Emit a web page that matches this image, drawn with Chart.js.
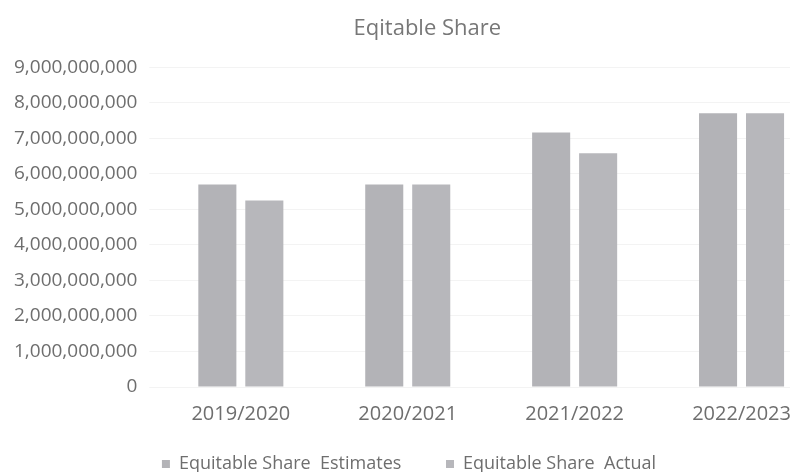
<!DOCTYPE html>
<html lang="en">
<head>
    <meta charset="UTF-8">
    <title>Eqitable Share</title>
    <script src="https://cdn.jsdelivr.net/npm/chart.js@4/dist/chart.umd.min.js"></script>
    <style>
        html, body { margin: 0; padding: 0; overflow: hidden; background: #fff; }
        #wrap { width: 850px; height: 472px; }
    </style>
</head>
<body>
<div id="wrap">
    <canvas id="main_chart" width="850" height="472"></canvas>
</div>
<script>
    const years = ['2019/2020', '2020/2021', '2021/2022', '2022/2023'];
    const estimates = [5700000000, 5700000000, 7170000000, 7710000000];
    const actual = [5250000000, 5700000000, 6580000000, 7710000000];
    const TEXT_COLOR = '#6e6e6e';
    const FONT = '"Open Sans", sans-serif';
    // extra blank space after each legend entry (the original has wide gaps)
    const LEGEND_TAILS = ['\u2003 ', '\u2002'];

    function drawChart() {
        const ctx = document.getElementById('main_chart').getContext('2d');
        return new Chart(ctx, {
            type: 'bar',
            data: {
                labels: years,
                datasets: [{
                    label: 'Equitable Share  Estimates',
                    data: estimates,
                    backgroundColor: '#b3b3b7',
                    categoryPercentage: 0.563,
                    barPercentage: 0.81
                }, {
                    label: 'Equitable Share  Actual',
                    data: actual,
                    backgroundColor: '#b7b7bb',
                    categoryPercentage: 0.563,
                    barPercentage: 0.81
                }]
            },
            options: {
                responsive: false,
                animation: false,
                layout: {padding: {left: 2, right: 25, top: 0, bottom: -11}},
                plugins: {
                    title: {
                        display: true,
                        // leading space nudges the title right, as in the original
                        text: '\u2003 Eqitable Share',
                        color: '#777',
                        font: {family: FONT, size: 22, weight: 'normal'},
                        padding: {top: 16, bottom: 25}
                    },
                    legend: {
                        position: 'bottom',
                        labels: {
                            color: TEXT_COLOR,
                            font: {family: FONT, size: 18},
                            boxWidth: 8,
                            boxHeight: 8,
                            padding: 22,
                            generateLabels: chart => Chart.defaults.plugins.legend.labels.generateLabels(chart)
                                .map((item, i) => Object.assign(item, {text: item.text + LEGEND_TAILS[i]}))
                        }
                    },
                    tooltip: {enabled: false}
                },
                scales: {
                    x: {
                        grid: {display: false},
                        border: {display: false},
                        ticks: {color: TEXT_COLOR, font: {family: FONT, size: 20}, padding: 7}
                    },
                    y: {
                        min: 0,
                        max: 9000000000,
                        grid: {color: '#f3f3f3'},
                        border: {display: false},
                        ticks: {
                            stepSize: 1000000000,
                            color: TEXT_COLOR,
                            font: {family: FONT, size: 19},
                            padding: 12,
                            callback: v => v.toLocaleString('en-US')
                        }
                    }
                }
            }
        });
    }

    Promise.all([
        document.fonts.load('19px "Open Sans"'),
        document.fonts.load('22px "Open Sans"')
    ]).then(drawChart, drawChart);
</script>
</body>
</html>
